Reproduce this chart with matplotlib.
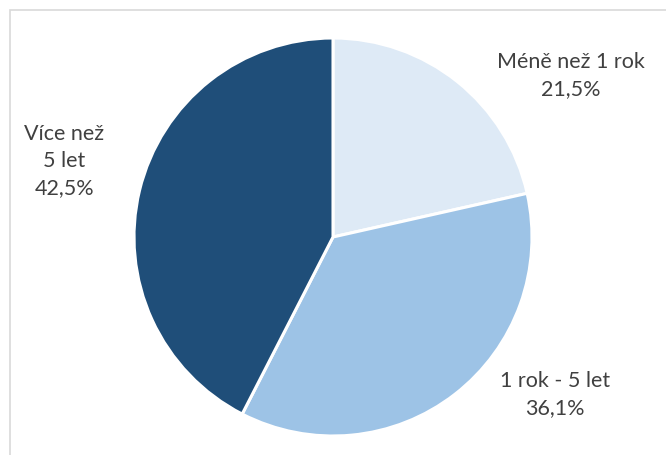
import matplotlib.pyplot as plt
from matplotlib.patches import Rectangle

# data
categories = ['Méně než 1 rok', '1 rok - 5 let', 'Více než\n5 let']
shares = [21.5, 36.1, 42.5]
colors = ['#DEEAF6', '#9DC3E6', '#1F4E79']

plt.rcParams['font.family'] = ['Lato', 'DejaVu Sans']

fig = plt.figure(figsize=(6.66, 4.55), dpi=100)

# chart frame (cut off at right and bottom like the original)
fig.patches.append(Rectangle((10 / 666, -0.1), 1.2, 1.1 - 10 / 455,
                             transform=fig.transFigure, fill=False,
                             edgecolor='#D9D9D9', linewidth=1.2))

ax = fig.add_axes([(333 - 199) / 666, (455 - 436) / 455, 398 / 666, 398 / 455])
ax.pie(shares, colors=colors, startangle=90, counterclock=False,
       wedgeprops=dict(edgecolor='white', linewidth=2.2))
ax.set_xlim(-1, 1)
ax.set_ylim(-1, 1)
ax.set_aspect('equal')
ax.axis('off')

# label positions in radius units
label_pos = [(1.196, 0.81), (1.116, -0.79), (-1.35, 0.38)]
for cat, val, (x, y) in zip(categories, shares, label_pos):
    txt = cat + '\n' + ('%.1f' % val).replace('.', ',') + '%'
    ax.text(x, y, txt, ha='center', va='center', fontsize=15.5,
            color='#404040', linespacing=1.45, clip_on=False)

fig.savefig('out.png', dpi=100)
